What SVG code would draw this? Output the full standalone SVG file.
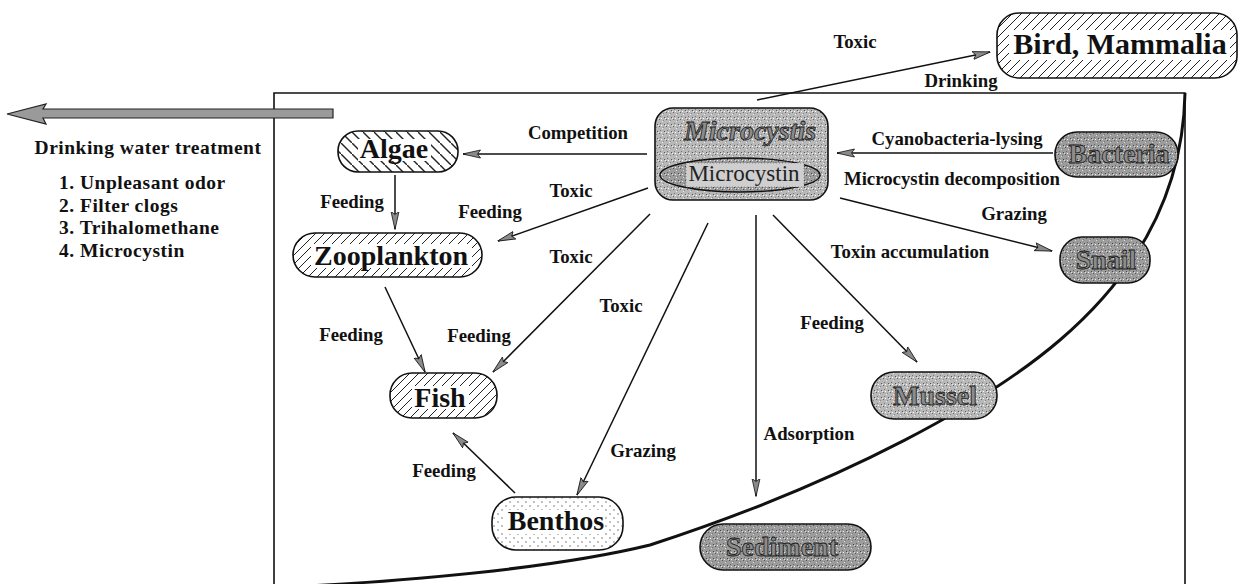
<svg xmlns="http://www.w3.org/2000/svg" width="1241" height="584" viewBox="0 0 1241 584">
<style>
.lbl{font-family:"Liberation Serif","Times New Roman",serif;font-weight:bold;font-size:18.8px;fill:#111;text-anchor:middle}
.hdr{font-family:"Liberation Serif","Times New Roman",serif;font-weight:bold;font-size:19.5px;letter-spacing:0.5px;fill:#111}
.nt{font-family:"Liberation Serif","Times New Roman",serif;font-weight:bold;font-size:28px;fill:#111;text-anchor:middle}
.gt{font-family:"Liberation Serif","Times New Roman",serif;font-weight:bold;font-size:28px;fill:#8c8c8c;stroke:#1a1a1a;stroke-width:0.8;text-anchor:middle}
.box{stroke:#111;stroke-width:1.6}
.con{stroke:#111;stroke-width:1.5;fill:none;marker-end:url(#ah)}
</style>
<defs>
<pattern id="hf" patternUnits="userSpaceOnUse" width="9" height="9"><rect width="9" height="9" fill="#fff"/><path d="M-1,10 L10,-1" stroke="#222" stroke-width="1"/></pattern>
<pattern id="hb" patternUnits="userSpaceOnUse" width="11" height="11"><rect width="11" height="11" fill="#fff"/><path d="M-1,-1 L12,12" stroke="#222" stroke-width="1.4"/></pattern>
<pattern id="dots" patternUnits="userSpaceOnUse" width="8" height="8"><rect width="8" height="8" fill="#fff"/><circle cx="2" cy="2" r="0.7" fill="#555"/><circle cx="6" cy="6" r="0.7" fill="#555"/></pattern>
<pattern id="sa" patternUnits="userSpaceOnUse" width="7" height="7"><rect width="7" height="7" fill="#b8b8b8"/><rect x="1" y="0" width="1" height="1" fill="#666"/><rect x="4" y="2" width="1" height="1" fill="#eee"/><rect x="2" y="4" width="1" height="1" fill="#777"/><rect x="6" y="5" width="1" height="1" fill="#555"/><rect x="0" y="6" width="1" height="1" fill="#eee"/><rect x="5" y="1" width="1" height="1" fill="#888"/><rect x="3" y="6" width="1" height="1" fill="#fff"/></pattern>
<pattern id="sb" patternUnits="userSpaceOnUse" width="7" height="7"><rect width="7" height="7" fill="#9c9c9c"/><rect x="1" y="0" width="1" height="1" fill="#555"/><rect x="4" y="2" width="1" height="1" fill="#ddd"/><rect x="2" y="4" width="1" height="1" fill="#666"/><rect x="6" y="5" width="1" height="1" fill="#444"/><rect x="0" y="6" width="1" height="1" fill="#ddd"/><rect x="5" y="1" width="1" height="1" fill="#777"/><rect x="3" y="6" width="1" height="1" fill="#eee"/></pattern>
<marker id="ah" markerUnits="userSpaceOnUse" markerWidth="18" markerHeight="10" viewBox="0 0 18 10" refX="17.5" refY="5" orient="auto"><path d="M0,1 L18,5 L0,9 L3,5 z" fill="#8a8a8a" stroke="#111" stroke-width="0.8"/></marker>
</defs>
<rect width="1241" height="584" fill="#fff"/>

<g id="frame">
<path d="M274,590 V93 H1185 V590" fill="none" stroke="#111" stroke-width="1.6"/>
<path d="M1185,93 C1183,200 1130,280 1060,340 C990,400 850,480 650,545 C560,567 420,580 290,587" fill="none" stroke="#111" stroke-width="3"/>
</g>

<g id="treatment">
<polygon points="7,114 46,104 43,109 333,109 333,118 43,118 46,124" fill="#9a9a9a" stroke="#222" stroke-width="1.2"/>
<text class="hdr" x="148" y="154" text-anchor="middle">Drinking water treatment</text>
<text class="hdr" x="59" y="189">1. Unpleasant odor</text>
<text class="hdr" x="59" y="211.5">2. Filter clogs</text>
<text class="hdr" x="59" y="234">3. Trihalomethane</text>
<text class="hdr" x="59" y="256.5">4. Microcystin</text>
</g>

<g id="connectors">
<line class="con" x1="757" y1="100" x2="990" y2="52"/>
<line class="con" x1="647" y1="154" x2="463" y2="154"/>
<line class="con" x1="1053" y1="153" x2="837" y2="153"/>
<line class="con" x1="395" y1="175" x2="395" y2="229"/>
<line class="con" x1="648" y1="188" x2="498" y2="241"/>
<line class="con" x1="650" y1="214" x2="493" y2="372"/>
<line class="con" x1="708" y1="223" x2="577" y2="495"/>
<line class="con" x1="756" y1="215" x2="756" y2="496"/>
<line class="con" x1="773" y1="215" x2="917" y2="362"/>
<line class="con" x1="840" y1="198" x2="1052" y2="251"/>
<line class="con" x1="385" y1="287" x2="425" y2="372"/>
<line class="con" x1="515" y1="493" x2="453" y2="433"/>
</g>

<g id="labels">
<text class="lbl" x="855" y="48">Toxic</text>
<text class="lbl" x="961" y="87">Drinking</text>
<text class="lbl" x="578" y="139">Competition</text>
<text class="lbl" x="957" y="145">Cyanobacteria-lysing</text>
<text class="lbl" x="952" y="185">Microcystin decomposition</text>
<text class="lbl" x="571" y="197">Toxic</text>
<text class="lbl" x="490" y="218">Feeding</text>
<text class="lbl" x="352" y="208">Feeding</text>
<text class="lbl" x="1014" y="220">Grazing</text>
<text class="lbl" x="910" y="258">Toxin accumulation</text>
<text class="lbl" x="571" y="263">Toxic</text>
<text class="lbl" x="621" y="312">Toxic</text>
<text class="lbl" x="832" y="329">Feeding</text>
<text class="lbl" x="351" y="341">Feeding</text>
<text class="lbl" x="479" y="342">Feeding</text>
<text class="lbl" x="809" y="440">Adsorption</text>
<text class="lbl" x="643" y="457">Grazing</text>
<text class="lbl" x="444" y="477">Feeding</text>
</g>

<g id="bird">
<rect class="box" x="997" y="13" width="240" height="65" rx="22" fill="url(#hf)"/>
<rect x="1009" y="30" width="221" height="30" fill="#fff"/>
<text class="nt" x="1120" y="54" style="font-size:30px">Bird, Mammalia</text>
</g>

<g id="microcystis">
<rect class="box" x="655" y="108" width="173" height="92" rx="18" fill="url(#sa)"/>
<text class="gt" x="750" y="140" style="font-style:italic">Microcystis</text>
<ellipse cx="740" cy="175" rx="80" ry="17" fill="url(#sb)" stroke="#111" stroke-width="1.4"/>
<rect x="686" y="163" width="118" height="24" fill="#cfcfcf" stroke="#777" stroke-width="0.8" stroke-dasharray="1 2"/>
<text x="744" y="181" text-anchor="middle" style="font-family:'Liberation Serif','Times New Roman',serif;font-size:23px;fill:#222">Microcystin</text>
</g>

<g id="algae">
<rect class="box" x="338" y="131" width="120" height="41" rx="20" fill="url(#hb)"/>
<rect x="358" y="139" width="73" height="22" fill="#fff"/>
<text class="nt" x="394" y="158">Algae</text>
</g>

<g id="bacteria">
<rect class="box" x="1055" y="132" width="123" height="45" rx="22" fill="url(#sb)"/>
<text class="gt" x="1119" y="163">Bacteria</text>
</g>

<g id="zooplankton">
<rect class="box" x="293" y="233" width="189" height="44" rx="22" fill="url(#hf)"/>
<rect x="311" y="244" width="161" height="24" fill="#fff"/>
<text class="nt" x="391" y="265">Zooplankton</text>
</g>

<g id="snail">
<rect class="box" x="1060" y="237" width="90" height="46" rx="22" fill="url(#sb)"/>
<text class="gt" x="1106" y="269">Snail</text>
</g>

<g id="fish">
<rect class="box" x="390" y="373" width="107" height="45" rx="22" fill="url(#hf)"/>
<rect x="412" y="386" width="57" height="23" fill="#fff"/>
<text class="nt" x="440" y="407">Fish</text>
</g>

<g id="mussel">
<rect class="box" x="871" y="372" width="126" height="47" rx="23" fill="url(#sa)"/>
<text class="gt" x="935" y="405">Mussel</text>
</g>

<g id="benthos">
<rect class="box" x="492" y="497" width="131" height="53" rx="24" fill="url(#dots)"/>
<rect x="504" y="510" width="101" height="24" fill="#fff"/>
<text class="nt" x="556" y="530">Benthos</text>
</g>

<g id="sediment">
<rect class="box" x="700" y="524" width="171" height="46" rx="23" fill="url(#sb)"/>
<text class="gt" x="782" y="556">Sediment</text>
</g>
</svg>
